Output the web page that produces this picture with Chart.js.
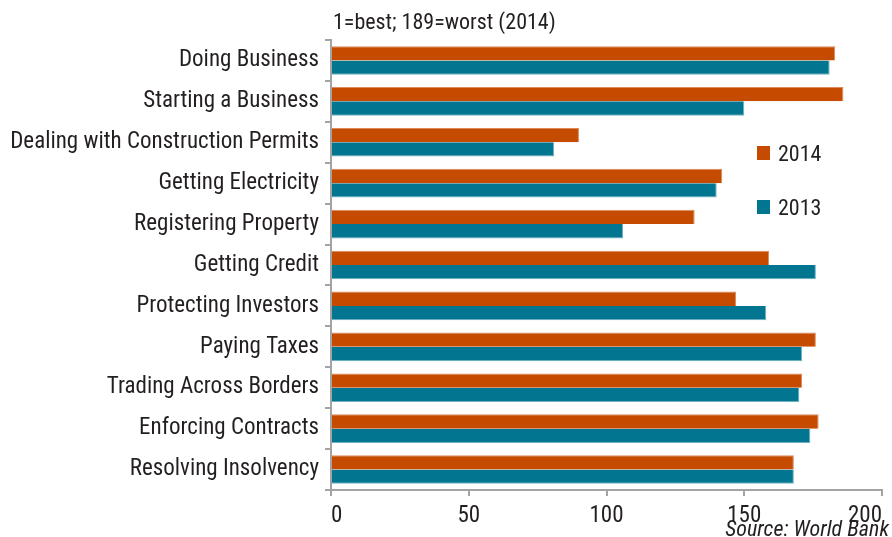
<!DOCTYPE html>
<html>
<head>
<meta charset="utf-8">
<title>Doing Business rankings</title>
<script src="https://cdn.jsdelivr.net/npm/chart.js@4"></script>
<style>
    html, body { margin: 0; padding: 0; background: #fff; }
    #wrap { width: 892px; height: 537px; }
</style>
</head>
<body>
<div id="wrap"><canvas id="rankChart" width="892" height="537"></canvas></div>
<script>
// Rankings, 1 = best, 189 = worst
const categories = [
    'Doing Business',
    'Starting a Business',
    'Dealing with Construction Permits',
    'Getting Electricity',
    'Registering Property',
    'Getting Credit',
    'Protecting Investors',
    'Paying Taxes',
    'Trading Across Borders',
    'Enforcing Contracts',
    'Resolving Insolvency'
];
const rank2014 = [183, 186, 90, 142, 132, 159, 147, 176, 171, 177, 168];
const rank2013 = [181, 150, 81, 140, 106, 176, 158, 171, 170, 174, 168];
const xTicks = [0, 50, 100, 150, 200];

const FONT = "'Liberation Sans Narrow', 'Roboto Condensed', 'DejaVu Sans Condensed', 'Arial Narrow', sans-serif";
const TEXT = '#231f20';
const AXIS = '#a3a3a3';

// Subtitle, source note and the legend block inside the plot
const annotations = {
    id: 'annotations',
    afterDraw(chart) {
        const { ctx, chartArea } = chart;
        ctx.save();
        ctx.fillStyle = TEXT;
        ctx.textBaseline = 'alphabetic';

        ctx.font = `22px ${FONT}`;
        ctx.textAlign = 'left';
        ctx.fillText('1=best; 189=worst (2014)', chartArea.left + 2, 29);

        ctx.font = `italic 22px ${FONT}`;
        ctx.textAlign = 'right';
        ctx.fillText('Source: World Bank', 889, 536);

        ctx.font = `22px ${FONT}`;
        ctx.textAlign = 'left';
        chart.data.datasets.forEach((ds, i) => {
            const y = 146 + i * 54;
            ctx.fillStyle = ds.backgroundColor;
            ctx.fillRect(757, y, 13, 14);
            ctx.fillStyle = TEXT;
            ctx.fillText(ds.label, 778, y + 15);
        });
        ctx.restore();
    }
};

new Chart(document.getElementById('rankChart'), {
    type: 'bar',
    data: {
        labels: categories,
        datasets: [
            {
                label: '2014',
                data: rank2014,
                backgroundColor: '#c54b00',
                borderColor: '#dc8a5c',
                borderWidth: { top: 1, right: 1, bottom: 0, left: 0 },
                categoryPercentage: 0.7,
                barPercentage: 1.0
            },
            {
                label: '2013',
                data: rank2013,
                backgroundColor: '#027590',
                borderColor: '#6fb0c2',
                borderWidth: { top: 0, right: 1, bottom: 1, left: 0 },
                categoryPercentage: 0.7,
                barPercentage: 1.0
            }
        ]
    },
    options: {
        indexAxis: 'y',
        responsive: false,
        animation: false,
        layout: { padding: { top: 40, right: 10, bottom: 0, left: 0 } },
        plugins: {
            legend: { display: false },
            tooltip: { enabled: false }
        },
        scales: {
            x: {
                min: 0,
                max: 200,
                afterBuildTicks: scale => {
                    scale.ticks = xTicks.map(v => ({ value: v }));
                },
                afterFit: scale => {
                    scale.height = 47;
                    scale.paddingRight = 0;
                },
                grid: {
                    drawOnChartArea: false,
                    color: AXIS,
                    lineWidth: 2,
                    tickLength: 6
                },
                border: { color: AXIS, width: 2 },
                ticks: {
                    color: TEXT,
                    font: { family: FONT, size: 23 },
                    padding: 6,
                    align: 'inner',
                    maxRotation: 0
                }
            },
            y: {
                afterFit: scale => { scale.width = 331; },
                grid: {
                    drawOnChartArea: false,
                    offset: true,
                    color: AXIS,
                    lineWidth: 2,
                    tickLength: 6
                },
                border: { color: AXIS, width: 2 },
                ticks: {
                    color: TEXT,
                    font: { family: FONT, size: 23 },
                    padding: 6
                }
            }
        }
    },
    plugins: [annotations]
});
</script>
</body>
</html>
